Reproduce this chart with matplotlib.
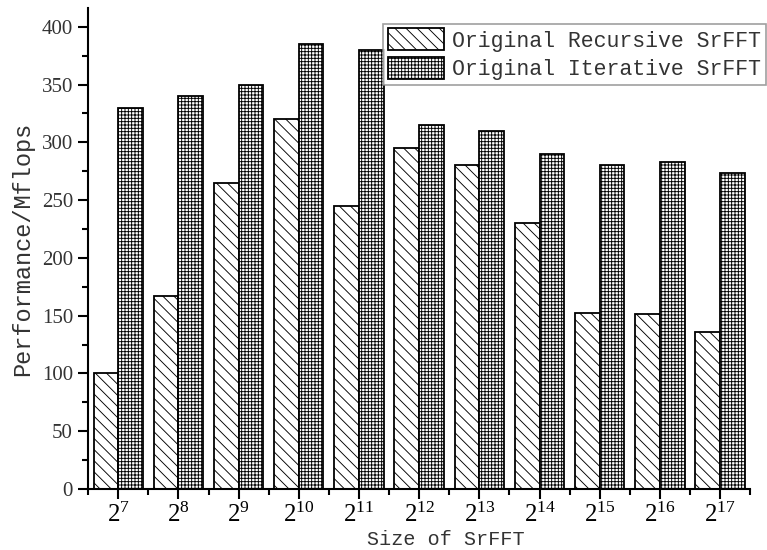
import numpy as np
import matplotlib.pyplot as plt
from matplotlib.ticker import MultipleLocator

exponents = [7, 8, 9, 10, 11, 12, 13, 14, 15, 16, 17]
recursive = [100, 167, 265, 320, 245, 295, 280, 230, 152, 151, 136]
iterative = [330, 340, 350, 385, 380, 315, 310, 290, 280, 283, 273]
series_names = ['Original Recursive SrFFT', 'Original Iterative SrFFT']

plt.rcParams['mathtext.fontset'] = 'custom'
plt.rcParams['mathtext.rm'] = 'Liberation Serif'
plt.rcParams['mathtext.it'] = 'Liberation Serif'
plt.rcParams['hatch.linewidth'] = 0.65

fig = plt.figure(figsize=(7.67, 5.5), dpi=100)
ax = fig.add_axes([0.115, 0.111, 0.863, 0.874])

x = np.arange(len(exponents))
w = 0.41
ax.bar(x - w / 2, recursive, w, color='white', edgecolor='black',
       linewidth=1.3, hatch='\\\\\\', label=series_names[0])
ax.bar(x + w / 2, iterative, w, color='white', edgecolor='black',
       linewidth=1.3, hatch='+++++', label=series_names[1])

ax.set_xlim(-0.5, 10.5)
ax.set_ylim(0, 416)
ax.set_xticks(x)
ax.set_xticklabels(['$2^{%d}$' % e for e in exponents])
ax.xaxis.set_minor_locator(MultipleLocator(0.5))
ax.yaxis.set_major_locator(MultipleLocator(50))
ax.yaxis.set_minor_locator(MultipleLocator(25))

for s in ['top', 'right']:
    ax.spines[s].set_visible(False)
ax.spines['left'].set_linewidth(1.5)
ax.spines['bottom'].set_linewidth(1.5)

ax.tick_params(axis='both', which='major', direction='out', length=7, width=1.5)
ax.tick_params(axis='both', which='minor', direction='out', length=4, width=1.5)
ax.tick_params(axis='y', labelsize=15, pad=4)
ax.tick_params(axis='x', labelsize=18, pad=3)
for lbl in ax.get_yticklabels():
    lbl.set_family('Liberation Serif')
    lbl.set_color('#333333')

ax.set_xlabel('Size of SrFFT', family='Liberation Mono', fontsize=14.5,
              color='#333333', va='center')
ax.xaxis.set_label_coords(0.54, -0.105)
ax.set_ylabel('Performance/Mflops', family='Liberation Mono', fontsize=17,
              color='#333333', labelpad=5)

leg = ax.legend(loc='upper left', bbox_to_anchor=(0.446, 0.967),
                prop={'family': 'Liberation Mono', 'size': 15.5},
                frameon=True, fancybox=False, edgecolor='#888888',
                handlelength=2.6, handleheight=1.2, borderpad=0.2,
                labelspacing=0.25, handletextpad=0.4, borderaxespad=0)
leg.get_frame().set_linewidth(1.2)
for t in leg.get_texts():
    t.set_color('#333333')

fig.savefig('out.png', dpi=100)
